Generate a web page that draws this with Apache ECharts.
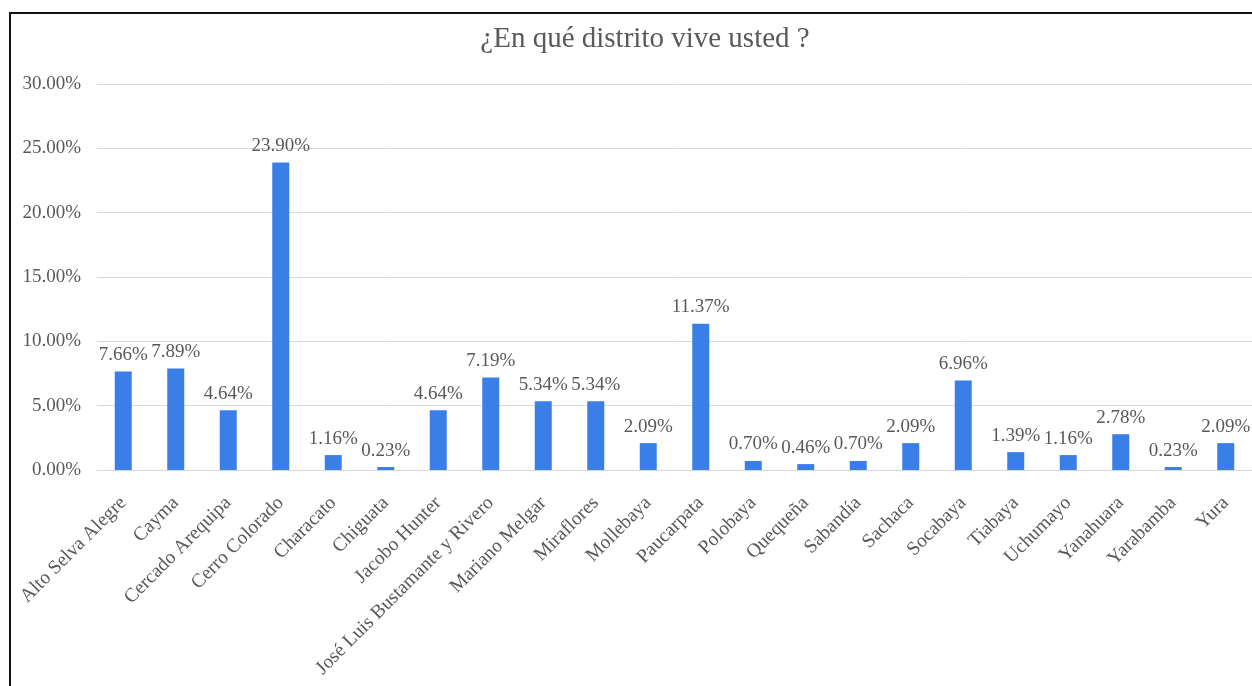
<!DOCTYPE html>
<html>
<head>
<meta charset="utf-8">
<title>¿En qué distrito vive usted ?</title>
<script src="https://cdn.jsdelivr.net/npm/echarts@6/dist/echarts.min.js"></script>
<style>
  html, body { margin: 0; padding: 0; background: #ffffff; overflow: hidden; }
  #chart { width: 1252px; height: 686px; }
</style>
</head>
<body>
<div id="chart"></div>
<script>
// Districts of residence and share of respondents (%)
const districts = [
  'Alto Selva Alegre', 'Cayma', 'Cercado Arequipa', 'Cerro Colorado', 'Characato',
  'Chiguata', 'Jacobo Hunter', 'José Luis Bustamante y Rivero', 'Mariano Melgar',
  'Miraflores', 'Mollebaya', 'Paucarpata', 'Polobaya', 'Quequeña', 'Sabandía',
  'Sachaca', 'Socabaya', 'Tiabaya', 'Uchumayo', 'Yanahuara', 'Yarabamba', 'Yura'
];
const shares = [
  7.66, 7.89, 4.64, 23.90, 1.16,
  0.23, 4.64, 7.19, 5.34,
  5.34, 2.09, 11.37, 0.70, 0.46, 0.70,
  2.09, 6.96, 1.39, 1.16, 2.78, 0.23, 2.09
];
const yTicks = [0, 5, 10, 15, 20, 25, 30];

const serif = '"Liberation Serif", "DejaVu Serif", serif';
const grey = '#595959';

const chart = echarts.init(document.getElementById('chart'), null, { renderer: 'canvas' });

chart.setOption({
  backgroundColor: '#ffffff',
  animation: false,
  title: {
    text: '¿En qué distrito vive usted ?',
    left: 640,
    textAlign: 'center',
    top: 20,
    textStyle: { fontFamily: serif, fontSize: 29, fontWeight: 'normal', color: grey }
  },
  graphic: [{
    type: 'polyline',
    silent: true,
    shape: { points: [[10, 700], [10, 13], [1260, 13]] },
    style: { stroke: '#111111', lineWidth: 2, fill: null }
  }],
  grid: { left: 97, right: -6, top: 84, bottom: 216, containLabel: false },
  xAxis: {
    type: 'category',
    data: districts,
    axisLine: { show: true, lineStyle: { color: '#d9d9d9', width: 1 } },
    axisTick: { show: false },
    axisLabel: {
      interval: 0,
      rotate: 45,
      margin: 30,
      verticalAlign: 'middle',
      fontFamily: serif,
      fontSize: 19.5,
      color: grey
    }
  },
  yAxis: {
    type: 'value',
    min: yTicks[0],
    max: yTicks[yTicks.length - 1],
    interval: yTicks[1] - yTicks[0],
    axisLine: { show: false },
    axisTick: { show: false },
    splitLine: { lineStyle: { color: '#d9d9d9', width: 1 } },
    axisLabel: {
      margin: 16,
      fontFamily: serif,
      fontSize: 19,
      color: grey,
      formatter: v => v.toFixed(2) + '%'
    }
  },
  series: [{
    type: 'bar',
    data: shares,
    barWidth: 17,
    itemStyle: { color: '#3a7fe8' },
    label: {
      show: true,
      position: 'top',
      distance: 7,
      fontFamily: serif,
      fontSize: 19,
      color: grey,
      formatter: p => p.value.toFixed(2) + '%'
    }
  }]
});
</script>
</body>
</html>
